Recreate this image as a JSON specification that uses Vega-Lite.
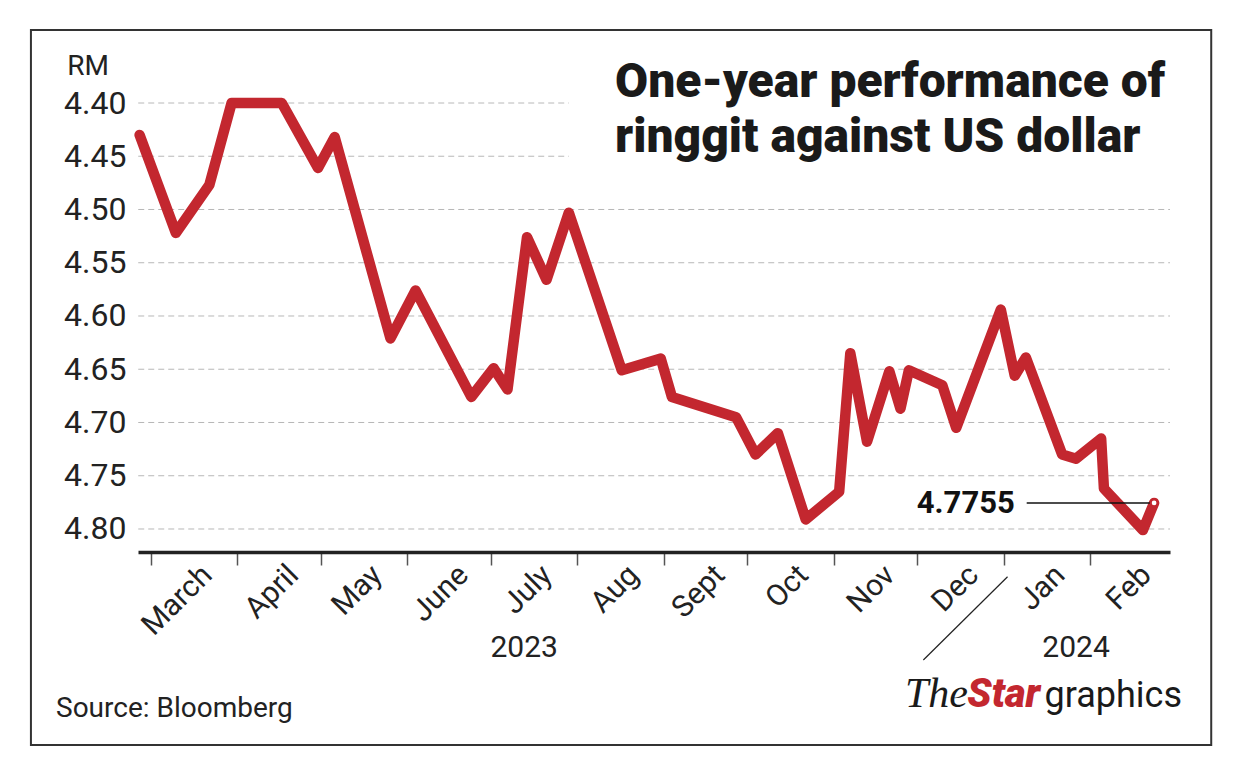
{
  "$schema": "https://vega.github.io/schema/vega-lite/v6.json",
  "width": 1032,
  "height": 449,
  "autosize": {"type": "none"},
  "padding": {"left": 138, "top": 103, "right": 70, "bottom": 223},
  "background": "white",
  "config": {"view": {"stroke": null}, "font": "Roboto"},
  "datasets": {
    "rate": [
      {"d": "2023-02-25", "v": 4.430},
      {"d": "2023-03-10", "v": 4.522},
      {"d": "2023-03-22", "v": 4.477},
      {"d": "2023-03-30", "v": 4.400},
      {"d": "2023-04-17", "v": 4.400},
      {"d": "2023-04-30", "v": 4.461},
      {"d": "2023-05-06", "v": 4.432},
      {"d": "2023-05-26", "v": 4.621},
      {"d": "2023-06-04", "v": 4.576},
      {"d": "2023-06-24", "v": 4.676},
      {"d": "2023-07-02", "v": 4.649},
      {"d": "2023-07-07", "v": 4.669},
      {"d": "2023-07-14", "v": 4.526},
      {"d": "2023-07-21", "v": 4.566},
      {"d": "2023-07-29", "v": 4.503},
      {"d": "2023-08-17", "v": 4.651},
      {"d": "2023-08-31", "v": 4.640},
      {"d": "2023-09-04", "v": 4.676},
      {"d": "2023-09-27", "v": 4.695},
      {"d": "2023-10-04", "v": 4.730},
      {"d": "2023-10-12", "v": 4.710},
      {"d": "2023-10-22", "v": 4.791},
      {"d": "2023-11-03", "v": 4.765},
      {"d": "2023-11-07", "v": 4.635},
      {"d": "2023-11-13", "v": 4.718},
      {"d": "2023-11-21", "v": 4.652},
      {"d": "2023-11-25", "v": 4.687},
      {"d": "2023-11-28", "v": 4.651},
      {"d": "2023-12-10", "v": 4.665},
      {"d": "2023-12-15", "v": 4.705},
      {"d": "2023-12-31", "v": 4.594},
      {"d": "2024-01-05", "v": 4.656},
      {"d": "2024-01-09", "v": 4.639},
      {"d": "2024-01-22", "v": 4.730},
      {"d": "2024-01-27", "v": 4.734},
      {"d": "2024-02-05", "v": 4.715},
      {"d": "2024-02-06", "v": 4.762},
      {"d": "2024-02-20", "v": 4.801},
      {"d": "2024-02-24", "v": 4.7755}
    ],
    "grid": [
      {"d": "2023-02-24T12:00:00Z", "d2": "2023-07-29T00:00:00Z", "v": 4.40},
      {"d": "2023-02-24T12:00:00Z", "d2": "2023-07-29T00:00:00Z", "v": 4.45},
      {"d": "2023-02-24T12:00:00Z", "d2": "2024-02-29T17:00:00Z", "v": 4.50},
      {"d": "2023-02-24T12:00:00Z", "d2": "2024-02-29T17:00:00Z", "v": 4.55},
      {"d": "2023-02-24T12:00:00Z", "d2": "2024-02-29T17:00:00Z", "v": 4.60},
      {"d": "2023-02-24T12:00:00Z", "d2": "2024-02-29T17:00:00Z", "v": 4.65},
      {"d": "2023-02-24T12:00:00Z", "d2": "2024-02-29T17:00:00Z", "v": 4.70},
      {"d": "2023-02-24T12:00:00Z", "d2": "2024-02-29T17:00:00Z", "v": 4.75},
      {"d": "2023-02-24T12:00:00Z", "d2": "2024-02-29T17:00:00Z", "v": 4.80}
    ]
  },
  "encoding": {
    "x": {
      "field": "d",
      "type": "temporal",
      "scale": {
        "domain": [
          {"year": 2023, "month": 2, "date": 24, "hours": 10, "utc": true},
          {"year": 2024, "month": 2, "date": 29, "hours": 17, "utc": true}
        ],
        "nice": false
      },
      "axis": {
        "title": null,
        "grid": false,
        "domain": true,
        "domainColor": "#222222",
        "domainWidth": 3.5,
        "ticks": true,
        "tickColor": "#555555",
        "tickWidth": 1.5,
        "tickSize": 13,
        "values": [
          {"year": 2023, "month": 3, "date": 1, "utc": true},
          {"year": 2023, "month": 4, "date": 1, "utc": true},
          {"year": 2023, "month": 5, "date": 1, "utc": true},
          {"year": 2023, "month": 6, "date": 1, "utc": true},
          {"year": 2023, "month": 7, "date": 1, "utc": true},
          {"year": 2023, "month": 8, "date": 1, "utc": true},
          {"year": 2023, "month": 9, "date": 1, "utc": true},
          {"year": 2023, "month": 10, "date": 1, "utc": true},
          {"year": 2023, "month": 11, "date": 1, "utc": true},
          {"year": 2023, "month": 12, "date": 1, "utc": true},
          {"year": 2024, "month": 1, "date": 1, "utc": true},
          {"year": 2024, "month": 2, "date": 1, "utc": true}
        ],
        "labelExpr": "['Jan','Feb','March','April','May','June','July','Aug','Sept','Oct','Nov','Dec'][utcmonth(datum.value)]",
        "labelAngle": -45,
        "labelAlign": "right",
        "labelBaseline": "middle",
        "labelOffset": 56,
        "labelPadding": 5,
        "labelFontSize": 30,
        "labelFont": "Roboto",
        "labelColor": "#222222",
        "labelOverlap": false,
        "labelBound": false,
        "labelFlush": false
      }
    },
    "y": {
      "field": "v",
      "type": "quantitative",
      "scale": {"domain": [4.40, 4.8216], "reverse": true, "zero": false, "nice": false},
      "axis": {
        "title": null,
        "grid": false,
        "domain": false,
        "ticks": false,
        "values": [4.40, 4.45, 4.50, 4.55, 4.60, 4.65, 4.70, 4.75, 4.80],
        "format": ".2f",
        "labelFontSize": 32,
        "labelFont": "Roboto",
        "labelColor": "#222222",
        "labelPadding": 12,
        "labelBaseline": "middle",
        "labelOverlap": false,
        "labelBound": false,
        "labelFlush": false
      }
    }
  },
  "layer": [
    {
      "data": {"values": [{"d": "2023-01-17T00:00:00Z", "d2": "2024-03-15T12:00:00Z", "v": 4.3315, "v2": 5.0028}]},
      "mark": {"type": "rect", "fill": null, "fillOpacity": 0, "stroke": "#333333", "strokeWidth": 2},
      "encoding": {"x2": {"field": "d2"}, "y2": {"field": "v2"}}
    },
    {
      "data": {"name": "grid"},
      "mark": {"type": "rule", "color": "#b8b8b8", "strokeWidth": 1, "strokeDash": [6, 4]},
      "encoding": {"x2": {"field": "d2"}}
    },
    {
      "data": {"name": "rate"},
      "mark": {"type": "line", "color": "#c3272f", "strokeWidth": 10.5, "strokeJoin": "round", "strokeCap": "round"}
    },
    {
      "data": {"values": [{"d": "2024-01-09T07:00:00Z", "d2": "2024-02-24T00:00:00Z", "v": 4.7755, "v2": 4.7755}]},
      "mark": {"type": "rule", "color": "#111111", "strokeWidth": 1.5},
      "encoding": {"x2": {"field": "d2"}, "y2": {"field": "v2"}}
    },
    {
      "data": {"values": [{"d": "2024-02-24", "v": 4.7755}]},
      "mark": {"type": "point", "filled": true, "fill": "white", "stroke": "#c3272f", "strokeWidth": 2, "size": 45, "opacity": 1}
    },
    {
      "data": {"values": [{"d": "2024-01-02T10:00:00Z", "d2": "2023-12-03T05:00:00Z", "v": 4.8448, "v2": 4.923}]},
      "mark": {"type": "rule", "color": "#222222", "strokeWidth": 1.2},
      "encoding": {"x2": {"field": "d2"}, "y2": {"field": "v2"}}
    },
    {
      "data": {"values": [
        {"d": "2023-08-14T14:00:00Z", "v": 4.3948, "t": "One-year performance of"},
        {"d": "2023-08-14T14:00:00Z", "v": 4.4460, "t": "ringgit against US dollar"}
      ]},
      "mark": {"type": "text", "align": "left", "baseline": "alphabetic", "font": "Roboto", "fontWeight": 900, "fontSize": 48, "color": "#1a1a1a"},
      "encoding": {"text": {"field": "t"}}
    },
    {
      "data": {"values": [{"d": "2024-01-05T00:00:00Z", "v": 4.7755, "t": "4.7755"}]},
      "mark": {"type": "text", "align": "right", "baseline": "middle", "font": "Roboto", "fontWeight": "bold", "fontSize": 31, "color": "#111111", "dy": 1},
      "encoding": {"text": {"field": "t"}}
    },
    {
      "data": {"values": [
        {"d": "2023-07-13T00:00:00Z", "v": 4.9199, "t": "2023"},
        {"d": "2024-01-27T00:00:00Z", "v": 4.9199, "t": "2024"}
      ]},
      "mark": {"type": "text", "align": "center", "baseline": "alphabetic", "font": "Roboto", "fontSize": 30, "color": "#222222"},
      "encoding": {"text": {"field": "t"}}
    },
    {
      "data": {"values": [
        {"d": "2023-01-26T00:00:00Z", "v": 4.9763, "t": "Source: Bloomberg"},
        {"d": "2023-01-30T00:00:00Z", "v": 4.3737, "t": "RM"}
      ]},
      "mark": {"type": "text", "align": "left", "baseline": "alphabetic", "font": "Roboto", "fontSize": 28, "color": "#222222"},
      "encoding": {"text": {"field": "t"}}
    },
    {
      "data": {"values": [{"d": "2023-12-18T12:00:00Z", "v": 4.9669, "t": "The"}]},
      "mark": {"type": "text", "align": "right", "baseline": "alphabetic", "font": "Liberation Serif", "fontStyle": "italic", "fontSize": 42, "color": "#1a1a1a", "dx": 2},
      "encoding": {"text": {"field": "t"}}
    },
    {
      "data": {"values": [{"d": "2023-12-19T00:00:00Z", "v": 4.9669, "t": "Star"}]},
      "mark": {"type": "text", "align": "left", "baseline": "alphabetic", "font": "Roboto", "fontStyle": "italic", "fontWeight": 900, "fontSize": 40, "color": "#c3272f"},
      "encoding": {"text": {"field": "t"}}
    },
    {
      "data": {"values": [{"d": "2024-03-05T00:00:00Z", "v": 4.9669, "t": "graphics"}]},
      "mark": {"type": "text", "align": "right", "baseline": "alphabetic", "font": "Roboto", "fontSize": 36, "color": "#1a1a1a"},
      "encoding": {"text": {"field": "t"}}
    }
  ]
}
